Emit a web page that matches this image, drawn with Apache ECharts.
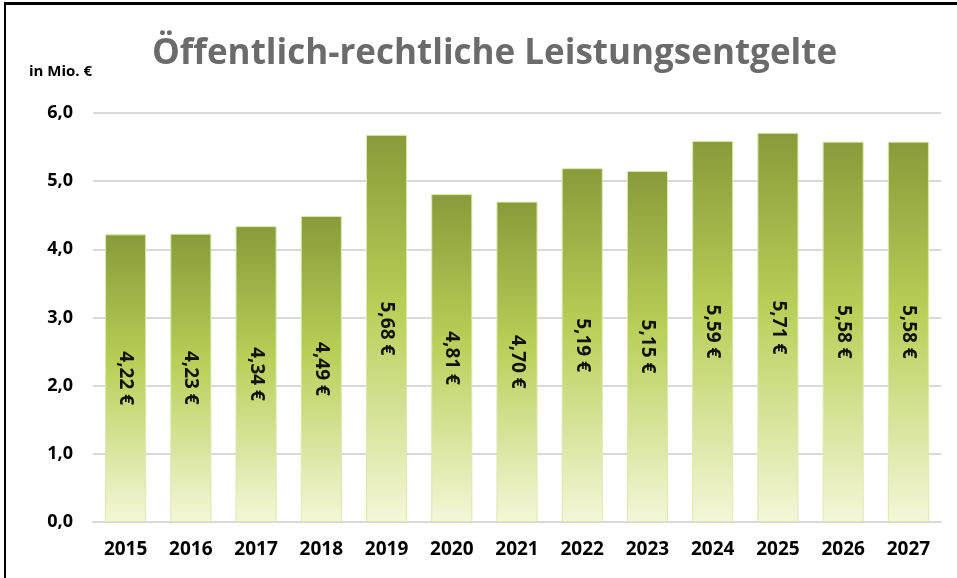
<!DOCTYPE html>
<html>
<head>
<meta charset="utf-8">
<script src="https://cdn.jsdelivr.net/npm/echarts@6/dist/echarts.min.js"></script>
<style>
  html, body { margin: 0; padding: 0; background: #fff; }
  #chart { width: 957px; height: 578px; box-sizing: border-box; border-top: 3px solid #000; border-left: 2px solid #000; margin-left: 4px; margin-top: 2px; }
</style>
</head>
<body>
<div id="chart"></div>
<script>
const years = ['2015', '2016', '2017', '2018', '2019', '2020', '2021', '2022', '2023', '2024', '2025', '2026', '2027'];
const values = [4.22, 4.23, 4.34, 4.49, 5.68, 4.81, 4.70, 5.19, 5.15, 5.59, 5.71, 5.58, 5.58];
const yTicks = [0, 1, 2, 3, 4, 5, 6];

const chart = echarts.init(document.getElementById('chart'));
const font = '"Open Sans", "Liberation Sans", sans-serif';

chart.setOption({
  animation: false,
  title: {
    text: 'Öffentlich-rechtliche Leistungsentgelte',
    left: 141, top: 27,
    textStyle: { fontFamily: font, fontSize: 35, fontWeight: 'bold', color: '#6b6b6b' }
  },
  graphic: [{
    type: 'text', left: 23, top: 59,
    style: { text: 'in Mio. €', font: 'bold 15px ' + font, fill: '#000' }
  }],
  grid: { left: 87, right: 20, top: 108, bottom: 58 },
  xAxis: {
    type: 'category',
    data: years,
    axisLine: { lineStyle: { color: '#d9d9d9', width: 2 } },
    axisTick: { show: false },
    axisLabel: { fontFamily: font, fontSize: 19, fontWeight: 'bold', color: '#000', margin: 18 }
  },
  yAxis: {
    type: 'value', min: yTicks[0], max: yTicks[yTicks.length - 1], interval: 1,
    axisLine: { show: false },
    axisTick: { show: false },
    splitLine: { lineStyle: { color: '#d9d9d9', width: 2 } },
    axisLabel: {
      fontFamily: font, fontSize: 18, fontWeight: 'bold', color: '#000', margin: 20,
      formatter: v => v.toFixed(1).replace('.', ',')
    }
  },
  series: [{
    type: 'bar',
    data: values,
    barWidth: '63%',
    itemStyle: {
      borderColor: '#dfe7b0', borderWidth: 1,
      color: new echarts.graphic.LinearGradient(0, 0, 0, 1, [
        { offset: 0, color: '#879b39' },
        { offset: 0.45, color: '#b8cf58' },
        { offset: 1, color: '#f4f7d8' }
      ])
    },
    label: {
      show: true, position: 'inside', rotate: -90,
      fontFamily: font, fontSize: 19, fontWeight: 'bold', color: '#111',
      formatter: p => p.value.toFixed(2).replace('.', ',') + ' €'
    }
  }]
});
</script>
</body>
</html>
